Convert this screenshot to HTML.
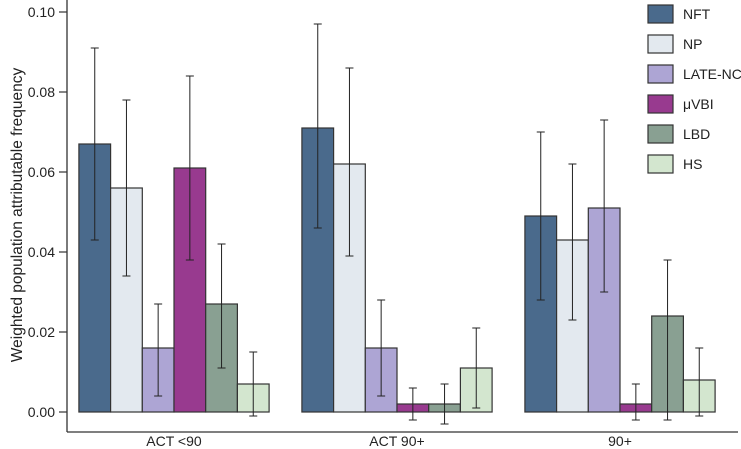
<!DOCTYPE html>
<html><head><meta charset="utf-8"><style>
body{margin:0;background:#fff}
svg{display:block;font-family:"Liberation Sans","DejaVu Sans",sans-serif}
</style></head><body>
<svg id="chart" width="741" height="449">
</svg>
<script>
const categories=["ACT <90","ACT 90+","90+"];
const series=["NFT","NP","LATE-NC","\u03bcVBI","LBD","HS"];
const colors=["#4a6a8c","#e3e9ef","#ada5d4","#983a8f","#89a092","#d3e6cf"];
const values=[[0.067,0.056,0.016,0.061,0.027,0.007],[0.071,0.062,0.016,0.002,0.002,0.011],[0.049,0.043,0.051,0.002,0.024,0.008]];
const lowers=[[0.043,0.034,0.004,0.038,0.011,-0.001],[0.046,0.039,0.004,-0.002,-0.003,0.001],[0.028,0.023,0.030,-0.002,-0.002,-0.001]];
const uppers=[[0.091,0.078,0.027,0.084,0.042,0.015],[0.097,0.086,0.028,0.006,0.007,0.021],[0.070,0.062,0.073,0.007,0.038,0.016]];
const yTicks=[0,0.02,0.04,0.06,0.08,0.10];
const tickLabels=["0.00","0.02","0.04","0.06","0.08","0.10"];
const NS="http://www.w3.org/2000/svg";
const svg=document.getElementById('chart');
const y=v=>412-v*4000;
const groupCenter=[174,397,620];
const bw=31.7;
const x=(g,s)=>groupCenter[g]-3*bw+s*bw;
function mk(t,a,p){const e=document.createElementNS(NS,t);for(const k in a)e.setAttribute(k,a[k]);(p||svg).appendChild(e);return e;}
let e;
e=mk('line',{x1:67,y1:0,x2:67,y2:432,stroke:'#333','stroke-width':1.3});


e=mk('line',{x1:67,y1:432,x2:738,y2:432,stroke:'#333','stroke-width':1.3});


yTicks.forEach((v,i)=>{
 e=mk('line',{x1:59,y1:y(v),x2:67,y2:y(v),stroke:'#333','stroke-width':1.2});
 
 
 e=mk('text',{x:55,y:y(v)+5,'text-anchor':'end','font-size':14,fill:'#222'});e.textContent=tickLabels[i];
 
 
});
e=mk('text',{x:0,y:0,transform:'translate(22,215) rotate(-90)','text-anchor':'middle','font-size':15.5,fill:'#222'});
e.textContent='Weighted population attributable frequency';


categories.forEach((c,g)=>{
 e=mk('text',{x:groupCenter[g],y:446,'text-anchor':'middle','font-size':14,fill:'#222'});e.textContent=c;
 
 
 series.forEach((s,i)=>{
  const v=values[g][i];
  e=mk('rect',{x:x(g,i),y:y(v),width:bw,height:y(0)-y(v),fill:colors[i],stroke:'#333','stroke-width':1.2});
  
  
  const cx=x(g,i)+bw/2;
  e=mk('path',{d:`M${cx},${y(lowers[g][i])}V${y(uppers[g][i])}M${cx-4},${y(lowers[g][i])}H${cx+4}M${cx-4},${y(uppers[g][i])}H${cx+4}`,stroke:'#222','stroke-width':1,fill:'none'});
  
  
 });
});
series.forEach((s,i)=>{
 const gy=5+i*30;
 const gr=mk('g',{});
 
 
 mk('rect',{x:648,y:gy,width:25,height:18,fill:colors[i],stroke:'#333','stroke-width':1.2},gr);
 const t=mk('text',{x:683,y:gy+14,'font-size':14,fill:'#222'},gr);t.textContent=s;
});
</script>
</body></html>
